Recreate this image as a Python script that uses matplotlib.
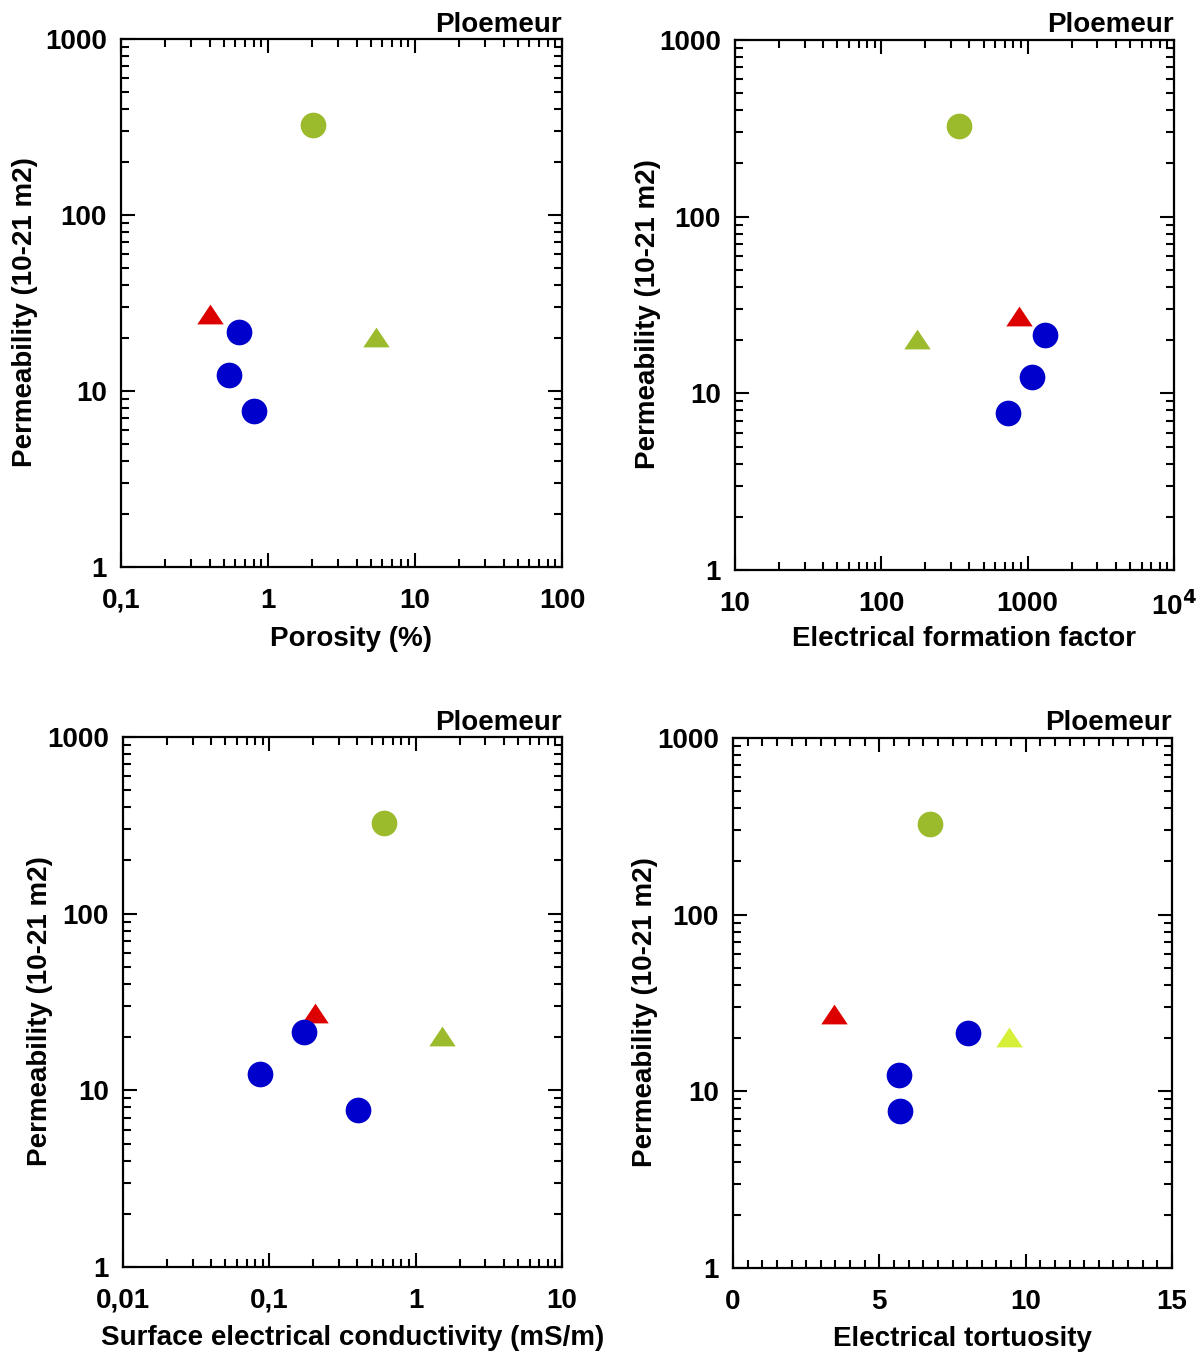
import matplotlib
matplotlib.use("Agg")
import matplotlib.pyplot as plt
import numpy as np
from matplotlib.ticker import LogLocator, NullFormatter, MultipleLocator

plt.rcParams['font.family'] = ['Liberation Sans', 'DejaVu Sans']
plt.rcParams['font.weight'] = 'bold'
plt.rcParams['axes.labelweight'] = 'bold'

# ---- data (permeability in 1e-21 m2) ----
# order: green circle, green triangle, red triangle, blue1, blue2, blue3
permeability = [326, 20.3, 27.3, 21.5, 12.4, 7.7]
porosity = [2.02, 5.45, 0.40, 0.63, 0.54, 0.80]
formation_factor = [340, 175, 874, 1315, 1072, 735]
surface_conductivity = [0.608, 1.51, 0.205, 0.173, 0.0864, 0.404]
tortuosity = [6.73, 9.43, 3.45, 8.03, 5.67, 5.71]

marker_kinds = ['o', 'tri', 'tri', 'o', 'o', 'o']
colors_default = ['#9bbb2c', '#9bbb2c', '#dd0000', '#0000cc', '#0000cc', '#0000cc']
colors_tort = ['#9bbb2c', '#d6f03a', '#dd0000', '#0000cc', '#0000cc', '#0000cc']

site_label = "Ploemeur"
ylabel = "Permeability (10-21 m2)"

panels = [
    dict(x=porosity, xlabel="Porosity (%)", xscale='log', xlim=(0.1, 100),
         xticks=[0.1, 1, 10, 100], xticklabels=['0,1', '1', '10', '100'],
         colors=colors_default, rect=[121, 39, 562, 567], ylab_x=25, xlab_y=639),
    dict(x=formation_factor, xlabel="Electrical formation factor", xscale='log', xlim=(10, 1e4),
         xticks=[10, 100, 1000, 1e4], xticklabels=['10', '100', '1000', r'10$^{\mathbf{4}}$'],
         colors=colors_default, rect=[735, 40, 1174, 570], ylab_x=648, xlab_y=639),
    dict(x=surface_conductivity, xlabel="Surface electrical conductivity (mS/m)", xscale='log', xlim=(0.01, 10),
         xticks=[0.01, 0.1, 1, 10], xticklabels=['0,01', '0,1', '1', '10'],
         colors=colors_default, rect=[123, 737, 562, 1267], ylab_x=40, xlab_y=1338),
    dict(x=tortuosity, xlabel="Electrical tortuosity", xscale='linear', xlim=(0, 15),
         xticks=[0, 5, 10, 15], xticklabels=['0', '5', '10', '15'],
         colors=colors_tort, rect=[733, 738, 1172, 1268], ylab_x=645, xlab_y=1339),
]

W, H = 1204, 1356
fig = plt.figure(figsize=(W / 100, H / 100), dpi=100)

tri_marker = [(-1.0, -0.75), (1.0, -0.75), (0.0, 0.75), (-1.0, -0.75)]
FS = 20

for p in panels:
    l, t, r, b = p['rect']
    wpx, hpx = r - l, b - t
    ax = fig.add_axes([l / W, 1 - b / H, wpx / W, hpx / H])
    ax.set_yscale('log')
    ax.set_ylim(1, 1000)
    ax.set_xscale(p['xscale'])
    ax.set_xlim(*p['xlim'])
    for xi, yi, mk, c in zip(p['x'], permeability, marker_kinds, p['colors']):
        if mk == 'o':
            ax.plot(xi, yi, marker='o', ms=18.5, color=c, mec='none', ls='none', clip_on=False, zorder=3)
        else:
            ax.plot(xi, yi, marker=tri_marker, ms=19, color=c, mec='none', ls='none', clip_on=False, zorder=3)

    ax.set_yticks([1, 10, 100, 1000])
    ax.set_yticklabels(['1', '10', '100', '1000'])
    ax.yaxis.set_minor_locator(LogLocator(base=10, subs=np.arange(2, 10)))
    ax.yaxis.set_minor_formatter(NullFormatter())
    ax.set_xticks(p['xticks'])
    ax.set_xticklabels(p['xticklabels'])
    if p['xscale'] == 'log':
        ax.xaxis.set_minor_locator(LogLocator(base=10, subs=np.arange(2, 10)))
        ax.xaxis.set_minor_formatter(NullFormatter())
    else:
        ax.xaxis.set_minor_locator(MultipleLocator(0.5))

    ax.tick_params(which='both', direction='in', top=True, right=True, width=1.5, labelsize=FS)
    ax.tick_params(which='major', length=10)
    ax.tick_params(which='minor', length=6)
    ax.tick_params(axis='x', which='major', pad=15)
    ax.tick_params(axis='y', which='major', pad=10)
    for s in ax.spines.values():
        s.set_linewidth(1.6)

    ax.set_xlabel(p['xlabel'], fontsize=FS, fontweight='bold')
    ax.xaxis.set_label_coords(0.5 + 10 / wpx, -(p['xlab_y'] - b) / hpx)
    ax.xaxis.label.set_va('center')
    ax.set_ylabel(ylabel, fontsize=FS, fontweight='bold')
    ax.yaxis.set_label_coords(-(l - p['ylab_x']) / wpx, 0.5 - 9 / hpx)
    ax.yaxis.label.set_va('center')
    ax.text(1.0, 1.0 + 1.5 / hpx, site_label, transform=ax.transAxes, ha='right', va='bottom',
            fontsize=FS, fontweight='bold')

fig.savefig('out.png', dpi=100, facecolor='white')
